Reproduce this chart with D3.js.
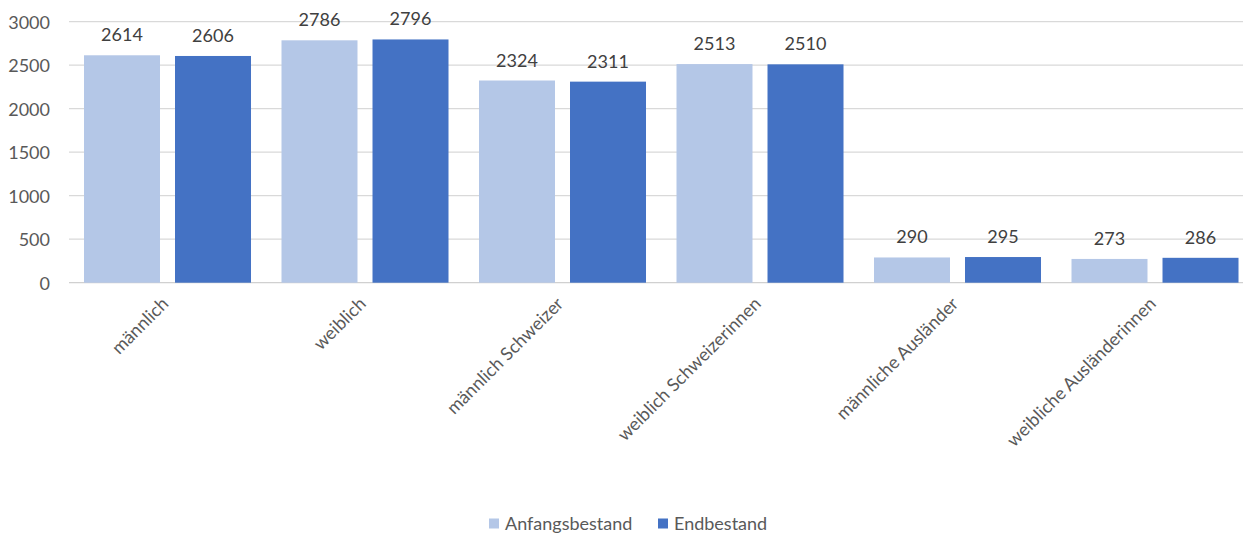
<!DOCTYPE html>
<html><head><meta charset="utf-8">
<script src="https://cdn.jsdelivr.net/npm/d3@7"></script>
<style>body{margin:0;background:#fff}svg{display:block}text{font-family:Lato,"Open Sans",sans-serif}</style>
</head><body><svg id="c" width="1243" height="535"></svg>
<script>
const categories = ["männlich","weiblich","männlich Schweizer","weiblich Schweizerinnen","männliche Ausländer","weibliche Ausländerinnen"];
const seriesNames = ["Anfangsbestand","Endbestand"];
const anfangsbestand = [2614,2786,2324,2513,290,273];
const endbestand = [2606,2796,2311,2510,295,286];
const yTicks = [0,500,1000,1500,2000,2500,3000];
const colors = ["#B4C7E7","#4472C4"];

const svg = d3.select("#c");
const W = 1243;
const FS = 18;
const x0 = d3.scaleBand().domain(categories).range([68.75,1253.75]).paddingInner(0.1544).paddingOuter(0.0772);
const x1 = d3.scaleBand().domain(seriesNames).range([0,x0.bandwidth()]).paddingInner(0.165).paddingOuter(0);
const y = d3.scaleLinear().domain([0,3000]).range([282.7,21.7]);

// gridlines
svg.append("g").selectAll("line").data(yTicks).join("line")
  .attr("x1",69).attr("x2",W).attr("y1",d=>y(d)).attr("y2",d=>y(d))
  .attr("stroke",d=>d===0?"#D0D0D0":"#D9D9D9").attr("stroke-width",1.3);

// y axis labels
const yAxis = d3.axisLeft(y).tickValues(yTicks).tickFormat(d3.format("d")).tickSize(0).tickPadding(0);
const ga = svg.append("g").attr("transform","translate(50,0)").call(yAxis);
ga.select(".domain").remove();
ga.selectAll("text").attr("font-size",FS).attr("fill","#595959").attr("font-family","Lato,'Open Sans',sans-serif").attr("dy","0.35em");

const data = categories.map((c,i)=>({c, vals:[{s:seriesNames[0],v:anfangsbestand[i]},{s:seriesNames[1],v:endbestand[i]}]}));
const g = svg.append("g").selectAll("g").data(data).join("g").attr("transform",d=>`translate(${x0(d.c)},0)`);
g.selectAll("rect").data(d=>d.vals).join("rect")
  .attr("x",d=>x1(d.s)).attr("width",x1.bandwidth())
  .attr("y",d=>y(d.v)).attr("height",d=>y(0)-y(d.v))
  .attr("fill",(d,i)=>colors[i]);
g.selectAll("text.lbl").data(d=>d.vals).join("text").attr("class","lbl")
  .attr("x",d=>x1(d.s)+x1.bandwidth()/2).attr("y",d=>y(d.v)-14)
  .attr("text-anchor","middle").attr("font-size",FS).attr("fill","#404040").text(d=>d.v);

// category labels
svg.append("g").selectAll("text").data(categories).join("text")
  .attr("transform",d=>`translate(${x0(d)+x0.bandwidth()/2+2},${305}) rotate(-45)`)
  .attr("text-anchor","end").attr("font-size",FS).attr("fill","#595959").text(d=>d);

// legend
const leg = svg.append("g");
const legX = [489,658];
seriesNames.forEach((s,i)=>{
  leg.append("rect").attr("x",legX[i]).attr("y",518.5).attr("width",10).attr("height",10).attr("fill",colors[i]);
  leg.append("text").attr("x",legX[i]+16).attr("y",530).attr("font-size",FS).attr("fill","#595959").text(s);
});
</script></body></html>
